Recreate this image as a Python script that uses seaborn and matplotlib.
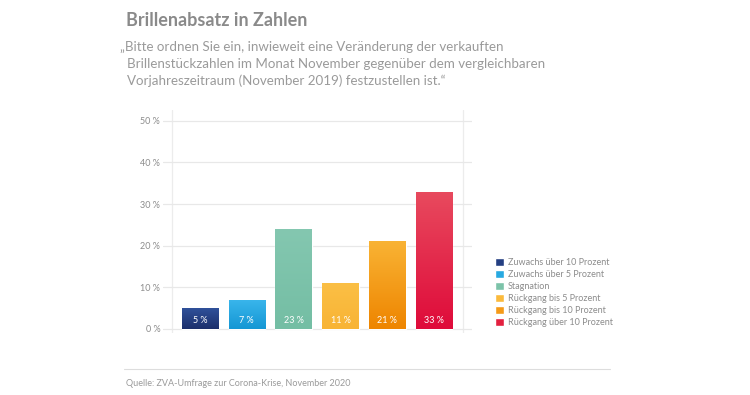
import numpy as np
import matplotlib.pyplot as plt
import pandas as pd
import seaborn as sns
from matplotlib.colors import LinearSegmentedColormap

# ------------------------------ Daten ------------------------------
kategorien = ['Zuwachs über 10 Prozent', 'Zuwachs über 5 Prozent', 'Stagnation',
              'Rückgang bis 5 Prozent', 'Rückgang bis 10 Prozent', 'Rückgang über 10 Prozent']
werte = [5, 7, 24, 11, 21, 33]
beschriftung = ['5 %', '7 %', '23 %', '11 %', '21 %', '33 %']
farben = ['#243f82', '#27a9e1', '#7cc3a9', '#fbba3c', '#f59a17', '#e3203f']
# Verlauf oben -> unten
farben_oben = ['#30519a', '#3ab6ec', '#84c7b0', '#fbbf45', '#f9b334', '#e84a5e']
farben_unten = ['#1b2f6b', '#1597d4', '#74bea4', '#f8b435', '#ee8500', '#df0b3a']
y_ticks = [0, 10, 20, 30, 40, 50]

df = pd.DataFrame({'Kategorie': kategorien, 'Wert': werte})

sns.set_style('white')
plt.rcParams['font.family'] = ['Lato', 'DejaVu Sans']

GRAU = '#8c8c8c'
fig = plt.figure(figsize=(7.5, 3.95), dpi=100)
ax = fig.add_axes([163 / 750, 1 - 333 / 395, 309 / 750, 223 / 395])

sns.barplot(data=df, x='Kategorie', y='Wert', hue='Kategorie', palette=farben, saturation=1,
            width=0.78, dodge=False, legend=True, ax=ax, zorder=3)

ax.set_xlim(-0.79, 5.81)
ax.set_ylim(-1, 52.6)

# Farbverlauf in den Balken
for i, p in enumerate(ax.patches[:len(werte)]):
    x0, y0, w, h = p.get_x(), p.get_y(), p.get_width(), p.get_height()
    cmap = LinearSegmentedColormap.from_list('v', [farben_unten[i], farben_oben[i]])
    grad = np.linspace(0, 1, 100).reshape(-1, 1)
    im = ax.imshow(grad, cmap=cmap, aspect='auto', origin='lower',
                   extent=(x0, x0 + w, y0, y0 + h), zorder=3.5)
    im.set_clip_path(p)
ax.set_xlim(-0.79, 5.81)
ax.set_ylim(-1, 52.6)

ax.set_yticks(y_ticks)
ax.set_yticklabels([f'{t} %' for t in y_ticks], fontsize=6.5, color=GRAU)
ax.tick_params(axis='y', length=0, pad=2)
ax.set_xticks([])
ax.set_xlabel('')
ax.set_ylabel('')
for s in ax.spines.values():
    s.set_visible(False)
ax.grid(axis='y', color='#e8e8e8', linewidth=0.9, zorder=0)
ax.axvline(-0.6, color='#ececec', linewidth=0.9, zorder=0)
ax.axvline(5.62, color='#ececec', linewidth=0.9, zorder=0)

# Werte in die Balken
for i, txt in enumerate(beschriftung):
    ax.text(i, 1.9, txt, ha='center', va='center', color='white', fontsize=6.5, zorder=5)

# Legende
handles, labels = ax.get_legend_handles_labels()
ax.legend_.remove()
leg = fig.legend(handles, labels, loc='upper left', bbox_to_anchor=(491 / 750, 1 - 254 / 395),
                 frameon=False, fontsize=6.5, handlelength=1.0, handleheight=1.0,
                 handletextpad=0.5, labelspacing=0.33, borderaxespad=0)
for t in leg.get_texts():
    t.set_color(GRAU)

# Titel, Frage, Quelle
fig.text(126 / 750, 1 - 20 / 395, 'Brillenabsatz in Zahlen', fontsize=13, fontweight='bold',
         color='#8a8a8a', va='center', ha='left')
zeilen = ['„Bitte ordnen Sie ein, inwieweit eine Veränderung der verkauften',
          'Brillenstückzahlen im Monat November gegenüber dem vergleichbaren',
          'Vorjahreszeitraum (November 2019) festzustellen ist.“']
for k, z in enumerate(zeilen):
    fig.text((120 if k == 0 else 127) / 750, 1 - (47 + 17 * k) / 395, z, fontsize=9.6,
             color='#9a9a9a', va='center', ha='left')
fig.add_artist(plt.Line2D([124 / 750, 610 / 750], [1 - 369 / 395, 1 - 369 / 395],
                          color='#dddddd', linewidth=0.8))
fig.text(126 / 750, 1 - 384 / 395, 'Quelle: ZVA-Umfrage zur Corona-Krise, November 2020',
         fontsize=6.5, color='#9a9a9a', va='center', ha='left')

fig.savefig('out.png', dpi=100, facecolor='white')
